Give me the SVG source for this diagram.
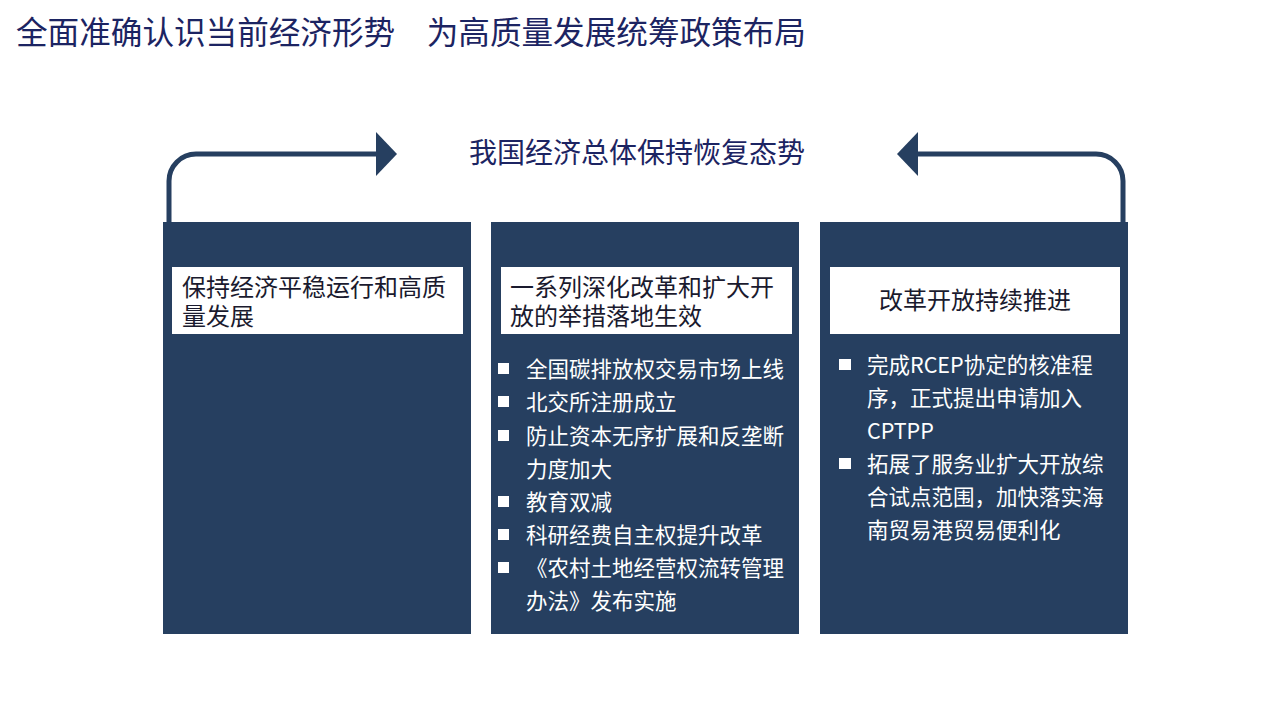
<svg xmlns="http://www.w3.org/2000/svg" width="1280" height="720" viewBox="0 0 1280 720">
<style>
text{font-family:"Noto Sans CJK SC","Noto Sans",sans-serif}
.title{font-size:31.6px;fill:#1c2462}
.card{fill:#263f60}
.lab{fill:#ffffff}
.labt{font-size:24px;fill:#1a1a2e}
.item{font-size:21.5px;fill:#ffffff}
.bul{fill:#ffffff}
.conn{fill:none;stroke:#263f60;stroke-width:5}
.head{fill:#263f60}
</style>
<rect width="1280" height="720" fill="#ffffff"/>
<text class="title" x="16" y="44">全面准确认识当前经济形势　为高质量发展统筹政策布局</text>
<g id="connectors">
<path class="conn" d="M169 222 V181 A27 27 0 0 1 196 154 H380"/>
<polygon class="head" points="376,132 397,154 376,176"/>
<path class="conn" d="M1123 222 V181 A27 27 0 0 0 1096 154 H914"/>
<polygon class="head" points="918,132 897,154 918,176"/>
</g>
<g id="summary">
<text x="637" y="163" text-anchor="middle" style="font-size:28px;fill:#1c2462">我国经济总体保持恢复态势</text>
</g>
<g id="card-left">
<rect class="card" x="163" y="222" width="308" height="412"/>
<rect class="lab" x="172" y="267" width="291" height="67"/>
<text class="labt" x="182" y="296">保持经济平稳运行和高质</text>
<text class="labt" x="182" y="325">量发展</text>
</g>
<g id="card-middle">
<rect class="card" x="491" y="222" width="308" height="412"/>
<rect class="lab" x="501" y="267" width="291" height="67"/>
<text class="labt" x="510" y="296">一系列深化改革和扩大开</text>
<text class="labt" x="510" y="325">放的举措落地生效</text>
<rect class="bul" x="498" y="363" width="11" height="11"/>
<text class="item" x="526" y="377">全国碳排放权交易市场上线</text>
<rect class="bul" x="498" y="396" width="11" height="11"/>
<text class="item" x="526" y="410">北交所注册成立</text>
<rect class="bul" x="498" y="430" width="11" height="11"/>
<text class="item" x="526" y="444">防止资本无序扩展和反垄断</text>
<text class="item" x="526" y="477">力度加大</text>
<rect class="bul" x="498" y="496" width="11" height="11"/>
<text class="item" x="526" y="510">教育双减</text>
<rect class="bul" x="498" y="529" width="11" height="11"/>
<text class="item" x="526" y="543">科研经费自主权提升改革</text>
<rect class="bul" x="498" y="562" width="11" height="11"/>
<text class="item" x="526" y="576">《农村土地经营权流转管理</text>
<text class="item" x="526" y="609">办法》发布实施</text>
</g>
<g id="card-right">
<rect class="card" x="820" y="222" width="308" height="412"/>
<rect class="lab" x="830" y="267" width="290" height="67"/>
<text class="labt" x="975" y="309" text-anchor="middle">改革开放持续推进</text>
<rect class="bul" x="839" y="359" width="12" height="11"/>
<text class="item" x="867" y="373">完成RCEP协定的核准程</text>
<text class="item" x="867" y="406">序，正式提出申请加入</text>
<text class="item" x="867" y="439">CPTPP</text>
<rect class="bul" x="839" y="458" width="12" height="11"/>
<text class="item" x="867" y="472">拓展了服务业扩大开放综</text>
<text class="item" x="867" y="505">合试点范围，加快落实海</text>
<text class="item" x="867" y="538">南贸易港贸易便利化</text>
</g>
</svg>
